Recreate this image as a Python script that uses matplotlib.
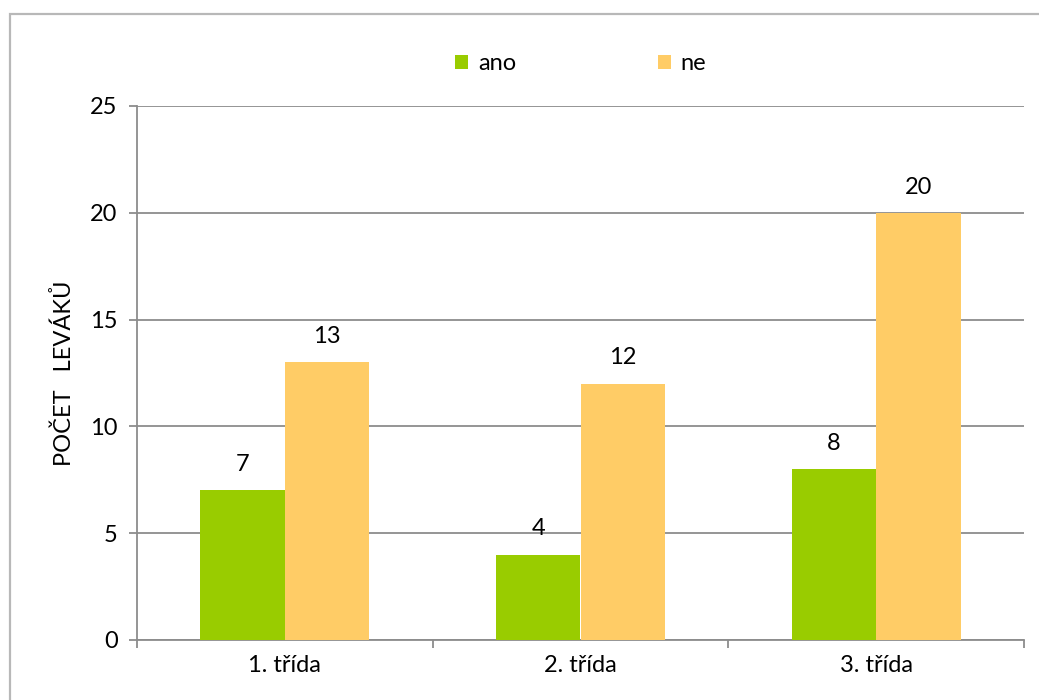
import matplotlib
matplotlib.use("Agg")
import matplotlib.pyplot as plt
from matplotlib.patches import Rectangle
import numpy as np

categories = ["1. třída", "2. třída", "3. třída"]
ano = [7, 4, 8]
ne = [13, 12, 20]
series_names = ["ano", "ne"]
y_ticks = [0, 5, 10, 15, 20, 25]
y_label = "POČET   LEVÁKŮ"

plt.rcParams['font.family'] = ['Lato', 'DejaVu Sans']
FS = 17

W, H = 1039, 700
fig = plt.figure(figsize=(W / 100, H / 100), dpi=100)
fig.patch.set_facecolor("white")

# outer chart frame
frame = Rectangle((10 / W, -0.1), 1.2, 1 - 14 / H + 0.1, transform=fig.transFigure,
                  fill=False, edgecolor="#b8b8b8", linewidth=1.6, zorder=0)
fig.add_artist(frame)

ax = fig.add_axes([137 / W, 60 / H, (1024 - 137) / W, (640 - 106) / H])

x = np.arange(len(categories))
bw = 0.286
green = "#99CC00"
orange = "#FFCC66"
b1 = ax.bar(x - bw / 2, ano, bw, color=green, label=series_names[0], zorder=3)
b2 = ax.bar(x + bw / 2, ne, bw, color=orange, label=series_names[1], zorder=3)

for bars, vals in ((b1, ano), (b2, ne)):
    for r, v in zip(bars, vals):
        ax.annotate(str(v), (r.get_x() + r.get_width() / 2, v), xytext=(0, 11),
                    textcoords="offset points", ha="center", va="bottom", fontsize=FS)

ax.set_xlim(-0.5, len(categories) - 0.5)
ax.set_ylim(0, 25)
ax.set_yticks(y_ticks)
ax.yaxis.grid(True, color="#8c8c8c", linewidth=1.3, zorder=0)
ax.set_axisbelow(True)

for s in ("top", "right"):
    ax.spines[s].set_visible(False)
for s in ("left", "bottom"):
    ax.spines[s].set_color("#8c8c8c")
    ax.spines[s].set_linewidth(1.3)

ax.set_xticks(x)
ax.set_xticklabels(categories, fontsize=FS)
ax.tick_params(axis="x", length=0, pad=11)
ax.set_xticks(np.arange(len(categories) + 1) - 0.5, minor=True)
ax.tick_params(axis="x", which="minor", length=6, width=1.3, color="#8c8c8c")
ax.tick_params(axis="y", length=6, width=1.3, color="#8c8c8c", labelsize=FS, pad=8)

ax.set_ylabel(y_label, fontsize=FS, labelpad=11)

leg = ax.legend(loc="lower center", bbox_to_anchor=(0.5, 1.02), ncol=2, frameon=False,
                fontsize=FS, handlelength=0.55, handleheight=0.55, handletextpad=0.4,
                columnspacing=6.0)

fig.savefig("out.png", dpi=100)
